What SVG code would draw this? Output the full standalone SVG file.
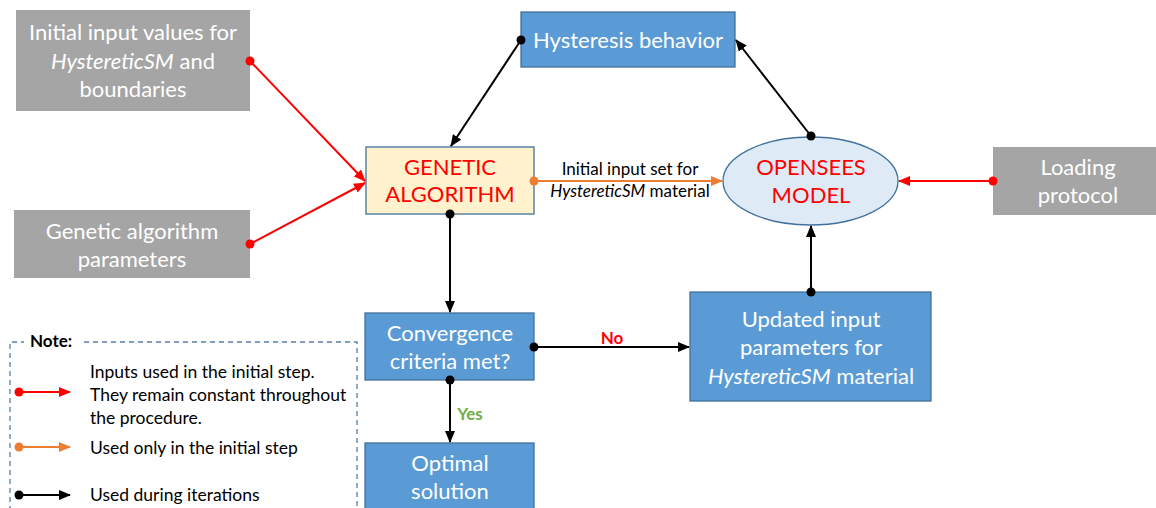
<svg xmlns="http://www.w3.org/2000/svg" width="1156" height="508" viewBox="0 0 1156 508">
<style>
.t{font-family:Lato,"Liberation Sans",sans-serif;text-anchor:middle;}
.w{fill:#fff;font-size:22px;}
.r{fill:#FF0000;font-size:22px;}
.s{font-family:Lato,"Liberation Sans",sans-serif;font-size:17px;fill:#000;}
.l{font-family:Lato,"Liberation Sans",sans-serif;font-size:17.5px;fill:#000;}
.gray{fill:#A5A5A5;}
.blue{fill:#5B9BD5;stroke:#41719C;stroke-width:1.3;}
.ln{fill:none;stroke-width:2;}
</style>
<defs>
<marker id="ab" markerUnits="userSpaceOnUse" markerWidth="12" markerHeight="10" refX="11" refY="5" orient="auto"><path d="M0,0 L12,5 L0,10 z" fill="#000"/></marker>
<marker id="ar" markerUnits="userSpaceOnUse" markerWidth="12" markerHeight="10" refX="11" refY="5" orient="auto"><path d="M0,0 L12,5 L0,10 z" fill="#FF0000"/></marker>
<marker id="ao" markerUnits="userSpaceOnUse" markerWidth="12" markerHeight="10" refX="11" refY="5" orient="auto"><path d="M0,0 L12,5 L0,10 z" fill="#ED7D31"/></marker>
</defs>

<g id="n-initial">
<rect class="gray" x="16" y="10" width="234" height="101"/>
<text class="t w" x="133" y="40">Initial input values for</text>
<text class="t w" x="133" y="69"><tspan font-style="italic">HystereticSM</tspan> and</text>
<text class="t w" x="133" y="97">boundaries</text>
</g>
<g id="n-gaparams">
<rect class="gray" x="14" y="210" width="236" height="68"/>
<text class="t w" x="132" y="239">Genetic algorithm</text>
<text class="t w" x="132" y="267">parameters</text>
</g>
<g id="n-ga">
<rect x="366" y="147" width="168" height="67" fill="#FFF2CC" stroke="#41719C" stroke-width="1.3"/>
<text class="t r" x="450" y="175">GENETIC</text>
<text class="t r" x="450" y="202">ALGORITHM</text>
</g>
<g id="n-hyst">
<rect class="blue" x="521" y="12" width="214" height="55"/>
<text class="t w" x="628" y="48">Hysteresis behavior</text>
</g>
<g id="n-opensees">
<ellipse cx="810.5" cy="181" rx="87.5" ry="44" fill="#DEEBF7" stroke="#41719C" stroke-width="1.3"/>
<text class="t r" x="811" y="175">OPENSEES</text>
<text class="t r" x="811" y="203">MODEL</text>
</g>
<g id="n-loading">
<rect class="gray" x="993" y="147" width="163" height="68"/>
<text class="t w" x="1078" y="175">Loading</text>
<text class="t w" x="1078" y="203">protocol</text>
</g>
<g id="n-updated">
<rect class="blue" x="690" y="292" width="241" height="109"/>
<text class="t w" x="811" y="327">Updated input</text>
<text class="t w" x="811" y="355">parameters for</text>
<text class="t w" x="811" y="384"><tspan font-style="italic">HystereticSM</tspan> material</text>
</g>
<g id="n-conv">
<rect class="blue" x="365" y="313" width="169" height="67"/>
<text class="t w" x="450" y="341">Convergence</text>
<text class="t w" x="450" y="369">criteria met?</text>
</g>
<g id="n-optimal">
<rect class="blue" x="365" y="443" width="169" height="70"/>
<text class="t w" x="450" y="471">Optimal</text>
<text class="t w" x="450" y="499">solution</text>
</g>

<g id="connectors">
<line class="ln" x1="250" y1="61" x2="365" y2="181" stroke="#FF0000" marker-end="url(#ar)"/>
<circle cx="250" cy="61" r="4.5" fill="#FF0000"/>
<line class="ln" x1="250" y1="244" x2="365" y2="183" stroke="#FF0000" marker-end="url(#ar)"/>
<circle cx="250" cy="244" r="4.5" fill="#FF0000"/>
<line class="ln" x1="993" y1="181" x2="899" y2="181" stroke="#FF0000" marker-end="url(#ar)"/>
<circle cx="993" cy="181" r="4.5" fill="#FF0000"/>
<line class="ln" x1="534" y1="181" x2="722" y2="181" stroke="#ED7D31" marker-end="url(#ao)"/>
<circle cx="534" cy="181" r="4.5" fill="#ED7D31"/>
<text class="s" x="630" y="175" text-anchor="middle">Initial input set for</text>
<text class="s" x="630" y="197" text-anchor="middle"><tspan font-style="italic">HystereticSM</tspan> material</text>
<line class="ln" x1="521" y1="40" x2="451" y2="146" stroke="#000" marker-end="url(#ab)"/>
<circle cx="521" cy="40" r="4.5" fill="#000"/>
<line class="ln" x1="811" y1="136" x2="736" y2="40" stroke="#000" marker-end="url(#ab)"/>
<circle cx="811" cy="136" r="4.5" fill="#000"/>
<line class="ln" x1="811" y1="292" x2="811" y2="226" stroke="#000" marker-end="url(#ab)"/>
<circle cx="811" cy="292" r="4.5" fill="#000"/>
<line class="ln" x1="450" y1="214" x2="450" y2="312" stroke="#000" marker-end="url(#ab)"/>
<circle cx="450" cy="214" r="4.5" fill="#000"/>
<line class="ln" x1="534" y1="347" x2="689" y2="347" stroke="#000" marker-end="url(#ab)"/>
<circle cx="534" cy="347" r="4.5" fill="#000"/>
<text x="612" y="344" text-anchor="middle" font-family="Lato,'Liberation Sans',sans-serif" font-weight="bold" font-size="17" fill="#FF0000">No</text>
<line class="ln" x1="450" y1="380" x2="450" y2="442" stroke="#000" marker-end="url(#ab)"/>
<circle cx="450" cy="380" r="4.5" fill="#000"/>
<text x="470" y="420" text-anchor="middle" font-family="Lato,'Liberation Sans',sans-serif" font-weight="bold" font-size="17" fill="#70AD47">Yes</text>
</g>

<g id="note">
<path d="M10,520 L10,342 L24,342 M84,342 L357,342 L357,520" fill="none" stroke="#5A7FA6" stroke-width="1.3" stroke-dasharray="5,4"/>
<text x="30" y="347" font-family="Lato,'Liberation Sans',sans-serif" font-weight="bold" font-size="17" fill="#000">Note:</text>
<line x1="19" y1="392" x2="70" y2="392" stroke="#FF0000" stroke-width="2" marker-end="url(#ar)"/>
<circle cx="19" cy="392" r="4.5" fill="#FF0000"/>
<text class="l" x="90" y="378">Inputs used in the initial step.</text>
<text class="l" x="90" y="401">They remain constant throughout</text>
<text class="l" x="90" y="424">the procedure.</text>
<line x1="19" y1="447" x2="70" y2="447" stroke="#ED7D31" stroke-width="2" marker-end="url(#ao)"/>
<circle cx="19" cy="447" r="4.5" fill="#ED7D31"/>
<text class="l" x="90" y="454">Used only in the initial step</text>
<line x1="19" y1="495" x2="70" y2="495" stroke="#000" stroke-width="2" marker-end="url(#ab)"/>
<circle cx="19" cy="495" r="4.5" fill="#000"/>
<text class="l" x="90" y="501">Used during iterations</text>
</g>
</svg>
